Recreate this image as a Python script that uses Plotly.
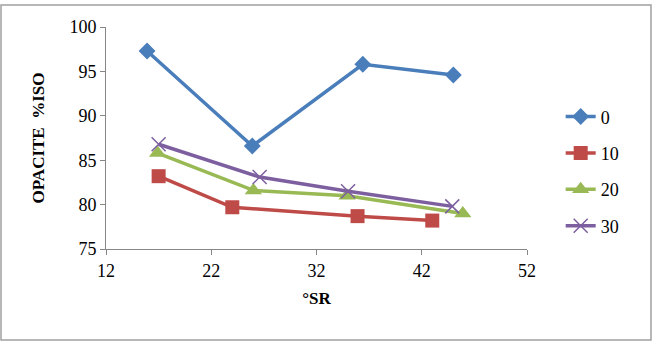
import plotly.graph_objects as go

series_names = ["0", "10", "20", "30"]
x_0 = [15.9, 25.9, 36.4, 45.0]
y_0 = [97.3, 86.6, 95.8, 94.6]
x_10 = [17.0, 24.0, 35.9, 43.0]
y_10 = [83.2, 79.7, 78.7, 78.2]
x_20 = [16.9, 26.0, 34.9, 45.9]
y_20 = [85.8, 81.6, 81.0, 79.0]
x_30 = [17.0, 26.6, 35.0, 44.9]
y_30 = [86.8, 83.1, 81.5, 79.8]

xs = [x_0, x_10, x_20, x_30]
ys = [y_0, y_10, y_20, y_30]
colors = ["#4A7EBB", "#BE4B48", "#98B954", "#7D5FA0"]
symbols = ["diamond", "square", "triangle-up", "x-thin"]
sizes = [13, 14, 15, 14]

fig = go.Figure()
for i, name in enumerate(series_names):
    marker = dict(symbol=symbols[i], size=sizes[i], color=colors[i])
    if symbols[i] == "x-thin":
        marker["line"] = dict(color=colors[i], width=1.5)
    else:
        marker["line"] = dict(width=0)
    fig.add_trace(go.Scatter(
        x=xs[i], y=ys[i], name=name, mode="lines+markers",
        line=dict(color=colors[i], width=3.5),
        marker=marker, legendgroup=name,
    ))

axis_color = "#868686"
font_family = "'Liberation Serif', 'DejaVu Serif', Georgia, serif"
fig.update_layout(
    width=657, height=348,
    margin=dict(l=106, r=130, t=27, b=99),
    paper_bgcolor="white", plot_bgcolor="white",
    font=dict(family=font_family, size=18, color="black"),
    showlegend=True,
    legend=dict(x=1.08, y=0.35, xanchor="left", yanchor="middle",
                font=dict(family=font_family, size=18), tracegroupgap=10,
                bgcolor="rgba(0,0,0,0)"),
    xaxis=dict(range=[12, 52], tick0=12, dtick=10, showline=True, linecolor=axis_color,
               linewidth=1, ticks="outside", ticklen=5, tickcolor=axis_color,
               tickfont=dict(family=font_family, size=18),
               showgrid=False, zeroline=False,
               title=dict(text="<b>°SR</b>", font=dict(family=font_family, size=17), standoff=12)),
    yaxis=dict(range=[75, 100], dtick=5, showline=True, linecolor=axis_color,
               linewidth=1, ticks="outside", ticklen=5, tickcolor=axis_color,
               tickfont=dict(family=font_family, size=18),
               showgrid=False, zeroline=False,
               title=dict(text="<b>OPACITE  %ISO</b>", font=dict(family=font_family, size=17), standoff=20)),
    shapes=[dict(type="rect", xref="paper", yref="paper",
                 x0=-0.2494, x1=1.2945, y0=-0.41, y1=1.099,
                 line=dict(color="#A0A0A0", width=1.5), layer="below")],
)

fig.write_html("out.html")
